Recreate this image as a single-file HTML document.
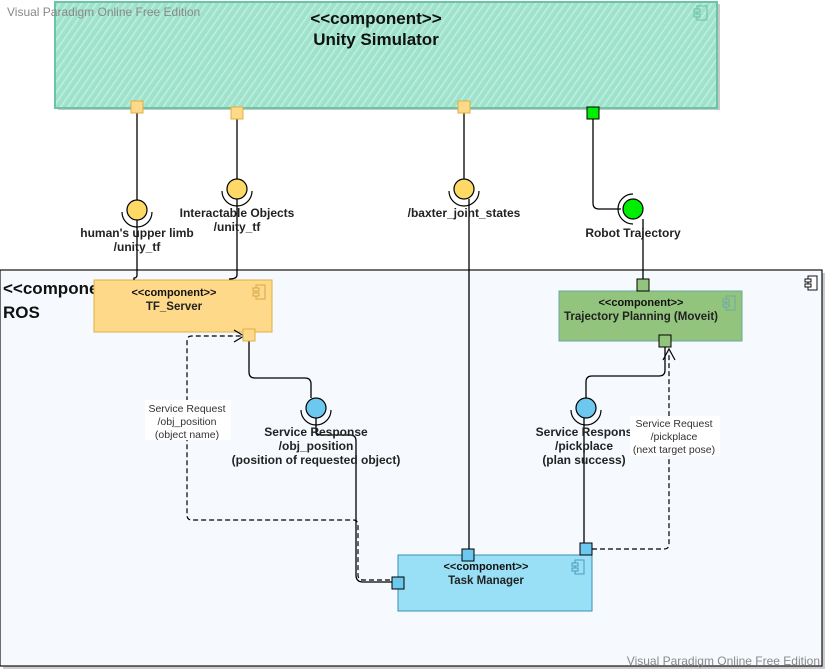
<!DOCTYPE html>
<html><head><meta charset="utf-8"><style>
html,body{margin:0;padding:0;background:#fff;}
svg{display:block;font-family:"Liberation Sans",Arial,sans-serif;}
</style></head><body>
<svg width="826" height="670" viewBox="0 0 826 670" xmlns="http://www.w3.org/2000/svg">
<defs>
<pattern id="h" width="6" height="6" patternUnits="userSpaceOnUse" patternTransform="rotate(35)">
<rect width="6" height="6" fill="#9fe6cf"/>
<line x1="0" y1="0" x2="0" y2="6" stroke="#b9c9c2" stroke-width="1.2"/>
<line x1="3" y1="0" x2="3" y2="6" stroke="#c4f4e4" stroke-width="1"/>
</pattern>
</defs>
<rect width="826" height="670" fill="#fff"/>

<!-- Unity Simulator -->
<rect x="58" y="4" width="662" height="106" fill="#c8c8c8"/>
<rect x="55" y="2" width="662" height="106" fill="url(#h)" stroke="#6cc4a6" stroke-width="2"/>
<g fill="none" stroke="#6cbfa4" stroke-width="1"><rect x="697" y="6" width="10" height="14"/><rect x="694" y="9" width="6" height="3" fill="#9fe6cf"/><rect x="694" y="14" width="6" height="3" fill="#9fe6cf"/></g>
<text x="376" y="24" font-size="17" font-weight="bold" text-anchor="middle" fill="#111">&lt;&lt;component&gt;&gt;</text>
<text x="376" y="45" font-size="17" font-weight="bold" text-anchor="middle" fill="#111">Unity Simulator</text>
<text x="7" y="16" font-size="12" fill="#888">Visual Paradigm Online Free Edition</text>

<!-- ROS -->
<rect x="3" y="273" width="822" height="396" fill="#ccc"/>
<rect x="0" y="270" width="822" height="396" fill="#f6fafe" stroke="#111" stroke-width="1.2"/>
<g fill="#fff" stroke="#111" stroke-width="1"><rect x="808" y="276" width="9" height="14"/><rect x="805" y="279" width="6" height="3"/><rect x="805" y="284" width="6" height="3"/></g>
<text x="3" y="294" font-size="17" font-weight="bold" fill="#111">&lt;&lt;component&gt;&gt;</text>
<text x="3" y="318" font-size="17" font-weight="bold" fill="#111">ROS</text>
<text x="820" y="665" font-size="12" text-anchor="end" fill="#888">Visual Paradigm Online Free Edition</text>

<!-- TF Server -->
<rect x="94" y="280" width="178" height="52" fill="#ffd98a" stroke="#e0b040"/>
<g fill="none" stroke="#d4a848"><rect x="256" y="285" width="9" height="14"/><rect x="253" y="288" width="6" height="3" fill="#ffd98a"/><rect x="253" y="293" width="6" height="3" fill="#ffd98a"/></g>
<text x="174" y="296" font-size="11" font-weight="bold" text-anchor="middle" fill="#111">&lt;&lt;component&gt;&gt;</text>
<text x="174" y="310" font-size="11.5" font-weight="bold" text-anchor="middle" fill="#222">TF_Server</text>

<!-- Trajectory planning -->
<rect x="559" y="291" width="183" height="50" fill="#93c47d" stroke="#6aaa9a"/>
<g fill="none" stroke="#6aaaa8"><rect x="726" y="296" width="9" height="14"/><rect x="723" y="299" width="6" height="3" fill="#93c47d"/><rect x="723" y="304" width="6" height="3" fill="#93c47d"/></g>
<text x="641" y="306" font-size="11" font-weight="bold" text-anchor="middle" fill="#111">&lt;&lt;component&gt;&gt;</text>
<text x="641" y="320" font-size="11.5" font-weight="bold" text-anchor="middle" fill="#222">Trajectory Planning (Moveit)</text>

<!-- Task Manager -->
<rect x="398" y="555" width="194" height="56" fill="#99e0f7" stroke="#3a8fb7"/>
<g fill="none" stroke="#4a9ab8"><rect x="575" y="560" width="9" height="14"/><rect x="572" y="563" width="6" height="3" fill="#99e0f7"/><rect x="572" y="568" width="6" height="3" fill="#99e0f7"/></g>
<text x="486" y="570" font-size="11" font-weight="bold" text-anchor="middle" fill="#111">&lt;&lt;component&gt;&gt;</text>
<text x="486" y="584" font-size="11.5" font-weight="bold" text-anchor="middle" fill="#222">Task Manager</text>

<!-- connectors solid -->
<g fill="none" stroke="#000" stroke-width="1.3">
<path d="M137 113 V220"/>
<path d="M137 220 V275 q0 3 -3 3 V280"/>
<path d="M237 119 V199"/>
<path d="M237 199 V275 q0 4 -8 4"/>
<path d="M464 113 V199"/>
<path d="M469 199 V549"/>
<path d="M593 119 V203 q0 6 6 6 H621"/>
<path d="M643 219 V279"/>
<path d="M249 341 V372 q0 6 6 6 H305 q6 0 6 6 V398"/>
<path d="M316 418 V431 q0 4 6 4 H350 q6 0 6 6 V575 q0 7 7 7 H392"/>
<path d="M665 347 V370 q0 6 -6 6 H592 q-6 0 -6 6 V398"/>
<path d="M584 418 V543"/>
</g>
<!-- dashed -->
<g fill="none" stroke="#000" stroke-width="1.2" stroke-dasharray="5,3">
<path d="M398 580 H363 q-5 0 -5 -5 V525 q0 -5 -5 -5 H192 q-5 0 -5 -5 V341 q0 -5 5 -5 H244"/>
<path d="M592 549 H664 q5 0 5 -5 V352"/>
</g>
<g fill="none" stroke="#000" stroke-width="1.2">
<path d="M234 330 L244 336 L234 342"/>
<path d="M663 360 L669 349 L675 360"/>
</g>

<!-- ports -->
<g stroke-width="1">
<rect x="131" y="101" width="12" height="12" fill="#ffd98a" stroke="#e0b040"/>
<rect x="231" y="107" width="12" height="12" fill="#ffd98a" stroke="#e0b040"/>
<rect x="458" y="101" width="12" height="12" fill="#ffd98a" stroke="#e0b040"/>
<rect x="587" y="107" width="12" height="12" fill="#00ee00" stroke="#000"/>
<rect x="243" y="329" width="12" height="12" fill="#ffd98a" stroke="#e0b040"/>
<rect x="637" y="279" width="12" height="12" fill="#93c47d" stroke="#000"/>
<rect x="659" y="335" width="12" height="12" fill="#93c47d" stroke="#000"/>
<rect x="462" y="549" width="12" height="12" fill="#6cc8ee" stroke="#000"/>
<rect x="392" y="577" width="12" height="12" fill="#6cc8ee" stroke="#000"/>
<rect x="580" y="543" width="12" height="12" fill="#6cc8ee" stroke="#000"/>
</g>

<!-- lollipops -->
<g stroke="#000" stroke-width="1.2">
<circle cx="137" cy="210" r="10" fill="#ffd966"/>
<path d="M122 212 A15 15 0 0 0 152 212" fill="none"/>
<circle cx="237" cy="189" r="10" fill="#ffd966"/>
<path d="M222 191 A15 15 0 0 0 252 191" fill="none"/>
<circle cx="464" cy="189" r="10" fill="#ffd966"/>
<path d="M449 191 A15 15 0 0 0 479 191" fill="none"/>
<circle cx="633" cy="209" r="10" fill="#00ee00"/>
<path d="M633 194 A15 15 0 0 0 633 224" fill="none"/>
<circle cx="316" cy="408" r="10" fill="#6cc8ee"/>
<path d="M301 410 A15 15 0 0 0 331 410" fill="none"/>
<circle cx="586" cy="408" r="10" fill="#6cc8ee"/>
<path d="M571 410 A15 15 0 0 0 601 410" fill="none"/>
</g>

<!-- labels -->
<g font-size="12" font-weight="bold" fill="#222" text-anchor="middle">
<text x="137" y="237">human's upper limb</text>
<text x="137" y="251">/unity_tf</text>
<text x="237" y="217">Interactable Objects</text>
<text x="237" y="231">/unity_tf</text>
<text x="464" y="217">/baxter_joint_states</text>
<text x="633" y="237">Robot Trajectory</text>
<text x="316" y="436">Service Response</text>
<text x="316" y="450">/obj_position</text>
<text x="316" y="464">(position of requested object)</text>
<text x="584" y="436">Service Respons</text>
<text x="584" y="450">/pickplace</text>
<text x="584" y="464">(plan success)</text>
</g>
<rect x="145" y="400" width="86" height="40" fill="#fff"/>
<rect x="630" y="416" width="90" height="40" fill="#fff"/>
<g font-size="10.5" fill="#333" text-anchor="middle">
<text x="187" y="412">Service Request</text>
<text x="187" y="425">/obj_position</text>
<text x="187" y="438">(object name)</text>
<text x="674" y="427">Service Request</text>
<text x="674" y="440">/pickplace</text>
<text x="674" y="453">(next target pose)</text>
</g>
</svg>
</body></html>
